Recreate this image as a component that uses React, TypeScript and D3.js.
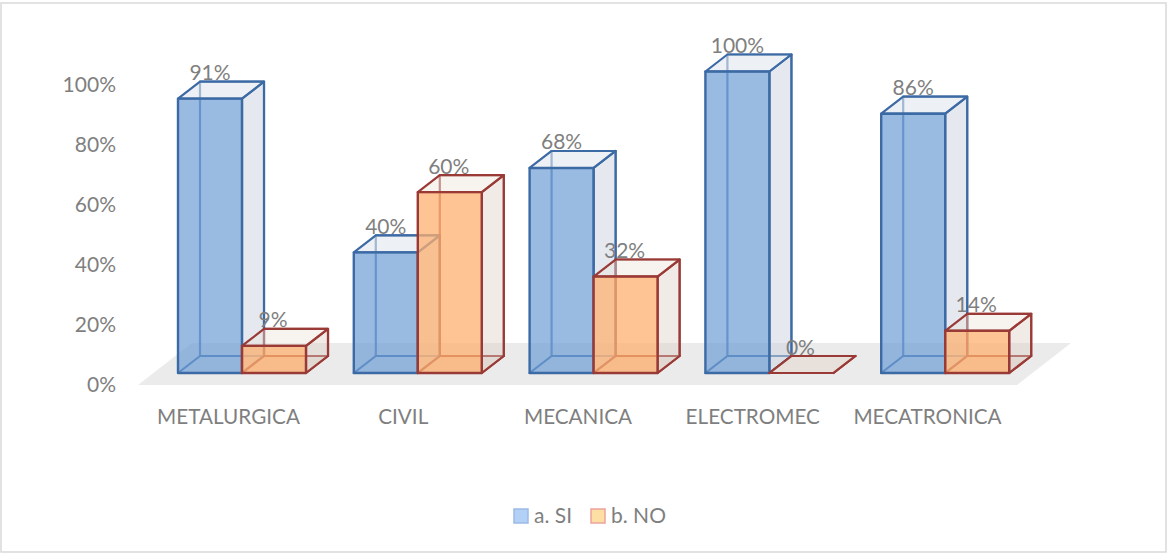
import React from "react";
import * as d3 from "d3";

const categories = ["METALURGICA", "CIVIL", "MECANICA", "ELECTROMEC", "MECATRONICA"];
const siValues = [91, 40, 68, 100, 86];
const noValues = [9, 60, 32, 0, 14];
const axisTicks = [0, 20, 40, 60, 80, 100];
const seriesNames = ["a. SI", "b. NO"];

const FONT = "Lato, sans-serif";
const TEXT = "#7f7f7f";
const DX = 22;
const DY = -17;

const palette = [
  { stroke: "#3c6aa4", front: "rgba(110,158,214,0.70)", side: "rgba(205,212,224,0.52)", top: "rgba(222,227,236,0.55)", back: "rgba(60,106,164,0.85)" },
  { stroke: "#9a3a36", front: "rgba(253,176,112,0.75)", side: "rgba(222,208,198,0.42)", top: "rgba(236,228,220,0.42)", back: "rgba(154,58,54,0.85)" },
];

const outer = d3.scaleBand<string>().domain(categories).range([166, 1045]).paddingInner(0).paddingOuter(0);
const inner = d3.scaleBand<string>().domain(seriesNames).range([12, 140]);
const labelX = d3.scalePoint<string>().domain(categories).range([228.5, 927.5]);
const barY = d3.scaleLinear().domain([0, 100]).range([373, 71.5]);
const axisY = d3.scaleLinear().domain([0, 100]).range([384.7, 84.7]);
const poly = d3.line();

function Bar({ x, w, value, s }: { x: number; w: number; value: number; s: number }) {
  const y0 = barY(0);
  const y1 = barY(value);
  const c = palette[s];
  const p = (pts: [number, number][]) => poly(pts) + "Z";
  const fl: [number, number] = [x, y0];
  const fr: [number, number] = [x + w, y0];
  const tl: [number, number] = [x, y1];
  const tr: [number, number] = [x + w, y1];
  const shift = (a: [number, number]): [number, number] => [a[0] + DX, a[1] + DY];
  return (
    <g strokeLinejoin="round">
      {/* hidden rear edges, seen through the translucent faces */}
      <path d={p([shift(fl), shift(fr), shift(tr), shift(tl)])} fill="none" stroke={c.back} strokeWidth={2.2} />
      <path d={p([fl, fr, shift(fr), shift(fl)])} fill={s === 1 ? c.side : "none"} stroke={c.stroke} strokeWidth={2.2} />
      <path d={p([fr, tr, shift(tr), shift(fr)])} fill={c.side} stroke={c.stroke} strokeWidth={2.2} />
      <path d={p([tl, tr, shift(tr), shift(tl)])} fill={c.top} stroke={c.stroke} strokeWidth={2.2} />
      {value > 0 && <path d={p([fl, fr, tr, tl])} fill={c.front} stroke={c.stroke} strokeWidth={2.4} />}
    </g>
  );
}

export default function App() {
  const w = inner.bandwidth();
  return (
    <svg
      width={1168}
      height={554}
      viewBox="0 0 1168 554"
      style={{ position: "fixed", left: 0, top: 0, background: "#fff", fontFamily: FONT }}
    >
      <rect x={1} y={3} width={1165} height={549} fill="#fff" stroke="#d9d9d9" strokeWidth={1.5} />

      {/* chart floor */}
      <path d={poly([[138, 385], [192, 343], [1071, 343], [1017, 385]]) + "Z"} fill="#ebebeb" />

      {/* value axis */}
      {axisTicks.map((t) => (
        <text key={t} x={116} y={axisY(t)} dy="0.35em" textAnchor="end" fontSize={21} fill={TEXT}>
          {t}%
        </text>
      ))}

      {/* columns */}
      {categories.map((cat, i) => {
        const x0 = outer(cat)!;
        return (
          <g key={cat}>
            <Bar x={x0 + inner(seriesNames[0])!} w={w} value={siValues[i]} s={0} />
            <Bar x={x0 + inner(seriesNames[1])!} w={w} value={noValues[i]} s={1} />
          </g>
        );
      })}

      {/* value labels */}
      {categories.map((cat, i) =>
        [siValues[i], noValues[i]].map((v, s) => (
          <text
            key={cat + s}
            x={outer(cat)! + inner(seriesNames[s])! + w / 2 - s}
            y={barY(v) + DY - 1.5}
            textAnchor="middle"
            fontSize={21}
            fill={TEXT}
          >
            {v}%
          </text>
        ))
      )}

      {/* category labels */}
      {categories.map((cat) => (
        <text key={cat} x={labelX(cat)} y={416.7} dy="0.35em" textAnchor="middle" fontSize={20.7} fill={TEXT}>
          {cat}
        </text>
      ))}

      {/* legend */}
      <rect x={514} y={509} width={14} height={14} fill="#b3d1f7" stroke="#9dbbe6" strokeWidth={1.5} />
      <text x={534} y={516} dy="0.35em" fontSize={21} fill={TEXT}>{seriesNames[0]}</text>
      <rect x={591} y={509} width={14} height={14} fill="#fddfa4" stroke="#eda39c" strokeWidth={1.5} />
      <text x={611} y={516} dy="0.35em" fontSize={21} fill={TEXT}>{seriesNames[1]}</text>
    </svg>
  );
}
